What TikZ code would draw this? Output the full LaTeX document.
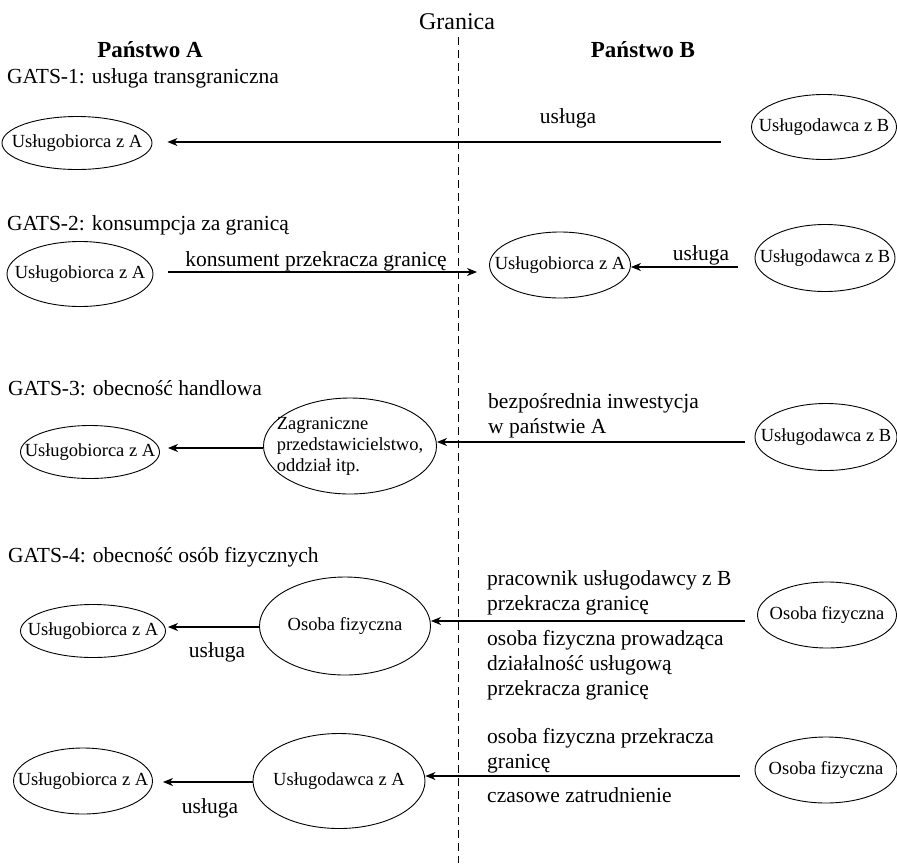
\documentclass[tikz,border=0pt]{standalone}
\usepackage{fontspec}
\setmainfont{Liberation Serif}
\usetikzlibrary{shapes.geometric,arrows.meta}

\newcommand\elfont{\fontsize{18.5}{21}\selectfont}
\newcommand\lblfont{\fontsize{21.5}{25}\selectfont}
\newcommand\hdfont{\fontsize{23}{27}\selectfont\bfseries}
\newcommand\granfont{\fontsize{24}{28}\selectfont}

\begin{document}
\begin{tikzpicture}[x=1pt,y=-1pt,>={Stealth[length=10pt,width=8pt,inset=3pt]},
    every node/.style={inner sep=0pt,font=\lblfont},
    actor/.style={ellipse,draw,line width=0.9pt,inner xsep=-30pt,font=\elfont},
    flow/.style={->,line width=1.1pt},
    txt/.style={anchor=base west,align=left},
    mid/.style={anchor=base}]

    \useasboundingbox (0,0) rectangle (897,863);

    % granica
    \node[mid,font=\granfont] (gr) at (457,29) {Granica};
    \coordinate (dol) at (458,863);
    \draw[dash pattern=on 8pt off 5pt,line width=0.9pt,shorten <=8pt] (gr.south -| dol) -- (dol);

    \node[mid,font=\hdfont] (pA) at (150,57) {Państwo A};
    \node[mid,font=\hdfont] (pB) at (643,57) {Państwo B};

    % GATS-1
    \node[txt] (g1) at (7,83) {GATS-1: usługa transgraniczna};
    \node[actor,minimum width=150pt,minimum height=53pt] (ubA1) at (77,143) {Usługobiorca z A};
    \node[actor,minimum width=145pt,minimum height=65pt] (udB1) at (824,127) {Usługodawca z B};
    \node[mid] (u1) at (568,123) {usługa};
    \draw[flow,shorten <=30pt,shorten >=15pt] (udB1.west |- 0,142) -- (ubA1.east |- 0,142);

    % GATS-2
    \node[txt] (g2) at (7,230) {GATS-2: konsumpcja za granicą};
    \node[actor,minimum width=146pt,minimum height=65pt] (ubA2) at (80,274) {Usługobiorca z A};
    \node[actor,minimum width=141pt,minimum height=66pt] (ubAB) at (560,265) {Usługobiorca z A};
    \node[actor,minimum width=140pt,minimum height=67pt] (udB2) at (825,258) {Usługodawca z B};
    \node[mid] (kons) at (316,266) {konsument przekracza granicę};
    \draw[flow,shorten <=15pt,shorten >=12pt] (ubA2.east |- 0,272) -- (ubAB.west |- 0,272);
    \node[mid] (u2) at (701,260) {usługa};
    \draw[flow,shorten <=17pt] (udB2.west |- 0,267) -- (ubAB.east |- 0,267);

    % GATS-3
    \node[txt] (g3) at (8,395) {GATS-3: obecność handlowa};
    \node[actor,minimum width=139pt,minimum height=53pt] (ubA3) at (90,452) {Usługobiorca z A};
    \node[actor,minimum width=173pt,minimum height=96pt,align=left] (zagr) at (350,446) {Zagraniczne\\przedstawicielstwo,\\oddział itp.};
    \node[actor,minimum width=142pt,minimum height=67pt] (udB3) at (826,437) {Usługodawca z B};
    \draw[flow,shorten >=8pt] (zagr.west |- 0,448) -- (ubA3.east |- 0,448);
    \node[txt] (inw) at (488,433) {bezpośrednia inwestycja\\w państwie A};
    \draw[flow,shorten <=10pt] (udB3.west |- 0,442) -- (zagr.east |- 0,442);

    % GATS-4
    \node[txt] (g4) at (8,562) {GATS-4: obecność osób fizycznych};
    \node[actor,minimum width=145pt,minimum height=53pt] (ubA4) at (93,631) {Usługobiorca z A};
    \node[actor,minimum width=171pt,minimum height=98pt] (osA) at (345,626) {Osoba fizyczna};
    \node[actor,minimum width=139pt,minimum height=66pt] (osB4) at (827,615) {Osoba fizyczna};
    \draw[flow,shorten >=2pt] (osA.west |- 0,627) -- (ubA4.east |- 0,627);
    \node[mid] (u4) at (217,657) {usługa};
    \node[txt] (prac) at (487,610) {pracownik usługodawcy z B\\przekracza granicę};
    \draw[flow,shorten <=12pt] (osB4.west |- 0,621) -- (osA.east |- 0,621);
    \node[txt] (dzial) at (487,695) {osoba fizyczna prowadząca\\działalność usługową\\przekracza granicę};

    % GATS-4, zatrudnienie
    \node[actor,minimum width=139pt,minimum height=66pt] (ubA5) at (83,781) {Usługobiorca z A};
    \node[actor,minimum width=172pt,minimum height=95pt] (udA5) at (339,781) {Usługodawca z A};
    \node[actor,minimum width=142pt,minimum height=66pt] (osB5) at (826,770) {Osoba fizyczna};
    \draw[flow,shorten >=10pt] (udA5.west |- 0,782) -- (ubA5.east |- 0,782);
    \node[mid] (u5) at (210,813) {usługa};
    \node[txt] (osprz) at (487,768) {osoba fizyczna przekracza\\granicę};
    \draw[flow,shorten <=15pt] (osB5.west |- 0,776) -- (udA5.east |- 0,776);
    \node[txt] (czas) at (487,802) {czasowe zatrudnienie};

\end{tikzpicture}
\end{document}
